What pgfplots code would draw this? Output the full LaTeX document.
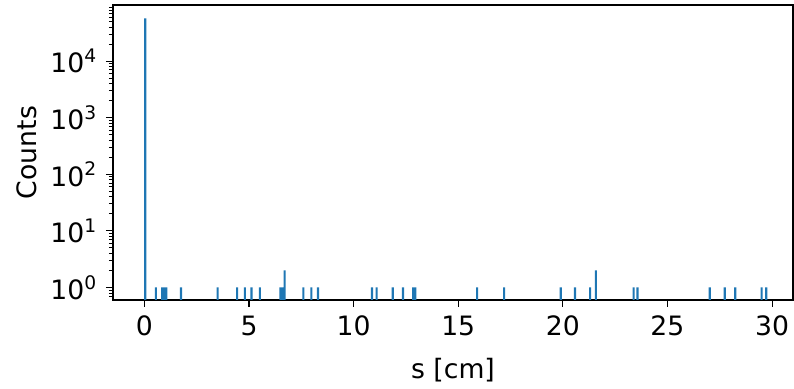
\documentclass[border=0pt]{standalone}
\usepackage{pgfplots}
\pgfplotsset{compat=1.18}
\usepackage{fontspec}
\setmainfont{DejaVu Sans}
\definecolor{mplblue}{HTML}{1F77B4}
\begin{document}
\fontsize{20}{24}\selectfont
\begin{tikzpicture}
\useasboundingbox (-84.75pt,-66.75pt) rectangle (510.75pt,225pt);
\begin{axis}[
  at={(0pt,0pt)}, anchor=south west,
  scale only axis, width=510pt, height=221.25pt,
  ymode=log, log origin=infty,
  xmin=-1.5, xmax=31.0, ymin=0.6, ymax=9.8e4,
  xtick={0,5,10,15,20,25,30},
  ytick={1,10,100,1000,10000},
  yticklabels={10\textsuperscript{0},10\textsuperscript{1},10\textsuperscript{2},10\textsuperscript{3},10\textsuperscript{4}},
  minor ytick={0.7,0.8,0.9,2,3,4,5,6,7,8,9,20,30,40,50,60,70,80,90,200,300,400,500,600,700,800,900,2000,3000,4000,5000,6000,7000,8000,9000,20000,30000,40000,50000,60000,70000,80000,90000},
  /pgf/number format/assume math mode=true,
  tick align=outside, tick pos=left,
  major tick length=5.25pt, minor tick length=3pt,
  every tick/.style={black, line width=0.8pt},
  every minor tick/.style={black, line width=0.6pt},
  axis line style={line width=1pt},
  ticklabel style={font=\fontsize{20}{24}\selectfont},
  label style={font=\fontsize{20}{24}\selectfont},
  xlabel={s [cm]}, ylabel={Counts},
  xlabel style={at={(axis description cs:0.5,0)}, anchor=center, yshift=-52.5pt},
  ylabel style={at={(axis description cs:0,0.5)}, anchor=center, yshift=64.5pt},
  ybar, bar width=0.1, bar shift=0pt,
]
\addplot[fill=mplblue, draw=none] coordinates {
(0.04,57000)
(0.55,1)
(0.85,1) (0.95,1) (1.05,1)
(1.75,1)
(3.5,1)
(4.43,1)
(4.8,1)
(5.12,1)
(5.52,1)
(6.5,1) (6.6,1) (6.7,2)
(7.6,1)
(7.98,1)
(8.3,1)
(10.88,1)
(11.1,1)
(11.87,1)
(12.36,1)
(12.85,1) (12.95,1)
(15.9,1)
(17.19,1)
(19.9,1)
(20.58,1)
(21.3,1)
(21.58,2)
(23.38,1)
(23.57,1)
(27.02,1)
(27.74,1)
(28.24,1)
(29.5,1)
(29.72,1)
};
\end{axis}
\end{tikzpicture}
\end{document}
